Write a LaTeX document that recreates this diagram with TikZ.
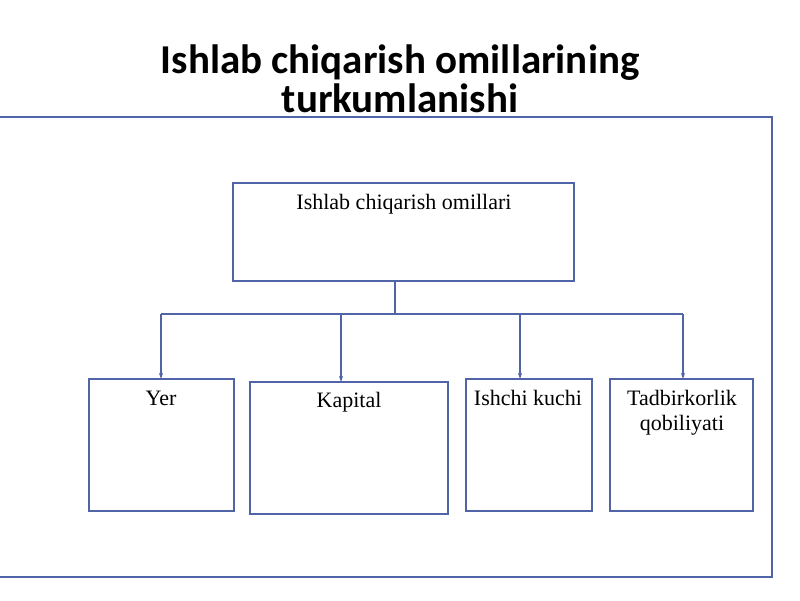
\documentclass[tikz,border=0pt]{standalone}
\usepackage{fontspec}
\setmainfont{Liberation Serif}
\newfontfamily\titlefont{Carlito}
\usetikzlibrary{arrows.meta}
\definecolor{frameblue}{RGB}{82,100,168}
\tikzset{
  box/.style={draw=frameblue, line width=1.6pt, inner sep=0pt},
  conn/.style={draw=frameblue, line width=1.6pt},
  arr/.style={conn, -{Stealth[length=6pt,width=4pt]}},
  lbl/.style={font=\fontsize{22}{26}\selectfont, align=center, anchor=base},
  ttl/.style={font=\titlefont\bfseries\fontsize{41}{39}\selectfont, align=center, inner sep=0pt}
}
\begin{document}
\begin{tikzpicture}[x=1pt,y=1pt]
\useasboundingbox (0,0) rectangle (800,600);
\fill[white] (0,0) rectangle (800,600);
% outer frame
\draw[conn] (-2,23) rectangle (772,483);
% title
\node[ttl, anchor=north] (title) at (400,555) {Ishlab chiqarish omillarining\\turkumlanishi};
% top box
\draw[box] (233,319) rectangle (574,417);
\coordinate (topb) at (395,319);
\node[lbl] (toplbl) at (404,390) {Ishlab chiqarish omillari};
% children boxes
\draw[box] (89,89) rectangle (234,221);
\draw[box] (250,86) rectangle (448,218);
\draw[box] (466,89) rectangle (592,221);
\draw[box] (610,89) rectangle (753,221);
\coordinate (yt) at (161,221);
\coordinate (kt) at (341,218);
\coordinate (it) at (520,221);
\coordinate (tt) at (683,221);
\node[lbl] (yer) at (161,194) {Yer};
\node[lbl] (kap) at (349,192) {Kapital};
\node[lbl] (ish) at (528,194) {Ishchi kuchi};
\node[lbl] (tad) at (682,194) {Tadbirkorlik};
\node[lbl] (qob) at (682,170) {qobiliyati};
% connectors
\coordinate (j) at (395,286);
\draw[conn] (topb) -- (j);
\draw[conn] (161,286) -- (683,286);
\draw[arr] (161,286) -- (yt);
\draw[arr] (341,286) -- (kt);
\draw[arr] (520,286) -- (it);
\draw[arr] (683,286) -- (tt);
\end{tikzpicture}
\end{document}
